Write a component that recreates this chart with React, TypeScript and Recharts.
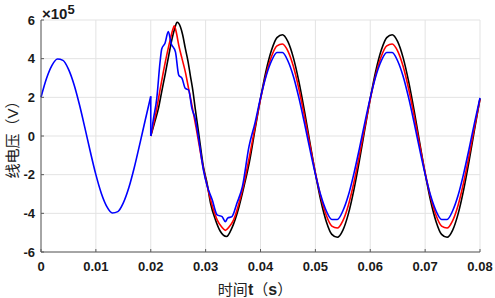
import { LineChart, Line, XAxis, YAxis, CartesianGrid } from 'recharts'

// x ticks (s) and y ticks (x10^5 V)
const xTicks = [0, 0.01, 0.02, 0.03, 0.04, 0.05, 0.06, 0.07, 0.08]
const yTicks = [-6, -4, -2, 0, 2, 4, 6]

// before the fault: one cycle of the blue phase
const preTime = [
  0, 0.001, 0.002, 0.003, 0.004, 0.005, 0.006, 0.007, 0.008, 0.009, 0.01,
  0.011, 0.012, 0.013, 0.014, 0.015, 0.016, 0.017, 0.018, 0.019, 0.02,
]
const preBlue = [
  2.0, 2.97, 3.65, 3.98, 3.91, 3.46, 2.68, 1.63, 0.42, -0.83, -2.0,
  -2.97, -3.65, -3.98, -3.91, -3.46, -2.68, -1.63, -0.42, 0.83, 2.05,
]
// the drop at t = 0.02
const dropTime = [0.02, 0.02]
const dropBlue = [2.05, 0]

// shared grid for the steady part
const steadyTime = [
  0.039, 0.04, 0.041, 0.042, 0.043, 0.044, 0.045, 0.046, 0.047, 0.048, 0.049,
  0.05, 0.051, 0.052, 0.053, 0.054, 0.055, 0.056, 0.057, 0.058, 0.059,
  0.06, 0.061, 0.062, 0.063, 0.064, 0.065, 0.066, 0.067, 0.068, 0.069,
  0.07, 0.071, 0.072, 0.073, 0.074, 0.075, 0.076, 0.077, 0.078, 0.079, 0.08,
]

const blackTime = [
  0.02, 0.0207, 0.0214, 0.022, 0.0226, 0.0233, 0.0239, 0.0244, 0.0248, 0.0254,
  0.0258, 0.0263, 0.0268, 0.0272, 0.0277, 0.0281, 0.0287, 0.0296, 0.0303, 0.0309,
  0.0318, 0.0327, 0.0338, 0.0348, 0.036, 0.037, 0.038,
]
const blackVolt = [
  0, 0.7, 1.43, 2.3, 3.15, 4.2, 5.05, 5.6, 5.88, 5.65,
  5.25, 4.53, 3.85, 3.15, 2.3, 1.43, 0.22, -1.6, -2.5, -3.48,
  -4.34, -4.94, -5.2, -4.75, -3.75, -2.6, -1.31,
  0.33, 1.93, 3.35, 4.43, 5.09, 5.24, 4.88, 4.04, 2.81, 1.31,
  -0.33, -1.93, -3.35, -4.43, -5.09, -5.24, -4.88, -4.04, -2.81, -1.31,
  0.33, 1.93, 3.35, 4.43, 5.09, 5.24, 4.88, 4.04, 2.81, 1.31,
  -0.33, -1.93, -3.35, -4.43, -5.09, -5.24, -4.88, -4.04, -2.81, -1.31,
  0.33, 1.93,
]

const redTime = [
  0.02, 0.0205, 0.0211, 0.0217, 0.0223, 0.023, 0.0236, 0.024, 0.0243, 0.0247,
  0.0251, 0.0257, 0.0263, 0.0269, 0.0275, 0.0284, 0.0296, 0.0303, 0.0312, 0.0321,
  0.0329, 0.0336, 0.0343, 0.0351, 0.0364, 0.037, 0.038,
]
const redVolt = [
  0, 0.6, 1.43, 2.4, 3.32, 4.3, 5.05, 5.5, 5.7, 5.3,
  4.7, 4.0, 3.32, 2.45, 1.6, 0.22, -1.7, -2.6, -3.6, -4.34,
  -4.7, -4.88, -4.7, -4.34, -3.13, -2.43, -1.04,
  0.45, 1.9, 3.16, 4.11, 4.66, 4.76, 4.39, 3.59, 2.43, 1.04,
  -0.45, -1.9, -3.16, -4.11, -4.66, -4.76, -4.39, -3.59, -2.43, -1.04,
  0.45, 1.9, 3.16, 4.11, 4.66, 4.76, 4.39, 3.59, 2.43, 1.04,
  -0.45, -1.9, -3.16, -4.11, -4.66, -4.76, -4.39, -3.59, -2.43, -1.04,
  0.45, 1.9,
]

const blueTime = [
  0.02, 0.0205, 0.0211, 0.0217, 0.022, 0.0226, 0.0232, 0.0237, 0.0245, 0.0251,
  0.0257, 0.0263, 0.0269, 0.0275, 0.0281, 0.0287, 0.0296, 0.0303, 0.0312, 0.0321,
  0.033, 0.0336, 0.034, 0.0348, 0.0357, 0.0367, 0.0379,
]
const blueVolt = [
  0, 0.9, 1.95, 3.84, 4.5, 4.8, 5.4, 4.8, 4.35, 3.15,
  2.98, 2.46, 2.38, 1.43, 0.9, -0.1, -1.76, -2.6, -3.3, -4.08,
  -4.17, -4.43, -4.25, -4.17, -3.48, -2.62, -0.55,
  0.68, 1.97, 3.08, 3.88, 4.32, 4.32, 3.88, 3.08, 1.97, 0.68,
  -0.68, -1.97, -3.08, -3.88, -4.32, -4.32, -3.88, -3.08, -1.97, -0.68,
  0.68, 1.97, 3.08, 3.88, 4.32, 4.32, 3.88, 3.08, 1.97, 0.68,
  -0.68, -1.97, -3.08, -3.88, -4.32, -4.32, -3.88, -3.08, -1.97, -0.68,
  0.68, 1.97,
]

const pts = (ts: number[], vs: number[]) => ts.map((t, i) => ({ t, v: vs[i] }))

const preData = pts(preTime, preBlue)
const dropData = pts(dropTime, dropBlue)
const blackData = pts([...blackTime, ...steadyTime], blackVolt)
const redData = pts([...redTime, ...steadyTime], redVolt)
const blueData = pts([...blueTime, ...steadyTime], blueVolt)

const W = 495
const H = 298
const axisColor = '#5a5a5a'
const arial = 'Liberation Sans, Arial, sans-serif'
const cjk = '"Noto Sans CJK SC", sans-serif'
const none = () => ''

const XTick = ({ x, y, payload }: any) => (
  <text x={x} y={y} dy="0.71em" textAnchor="middle" fontFamily={arial} fontWeight={700} fontSize={13} fill="#1a1a1a">
    {String(payload.value)}
  </text>
)

const YTick = ({ x, y, payload }: any) => (
  <text x={x} y={y} dy="0.355em" textAnchor="end" fontFamily={arial} fontWeight={700} fontSize={13} fill="#1a1a1a">
    {String(payload.value)}
  </text>
)

export default function App() {
  return (
    <div style={{ position: 'absolute', left: 0, top: 0, width: W, height: H, background: '#fff' }}>
      <LineChart width={W} height={H} margin={{ top: 20, right: 15, left: 0, bottom: 0 }}>
        <CartesianGrid stroke="#e3e3e3" />
        <XAxis
          dataKey="t"
          type="number"
          domain={[0, 0.08]}
          ticks={xTicks}
          interval={0}
          height={46}
          tickSize={-3}
          tickMargin={13}
          stroke={axisColor}
          tick={<XTick />}
        />
        <XAxis
          xAxisId="top"
          orientation="top"
          type="number"
          domain={[0, 0.08]}
          ticks={xTicks}
          interval={0}
          height={0}
          tickSize={-3}
          stroke={axisColor}
          tickFormatter={none}
        />
        <YAxis
          type="number"
          domain={[-6, 6]}
          ticks={yTicks}
          interval={0}
          width={41}
          tickSize={-3}
          tickMargin={9}
          stroke={axisColor}
          tick={<YTick />}
        />
        <YAxis
          yAxisId="right"
          orientation="right"
          type="number"
          domain={[-6, 6]}
          ticks={yTicks}
          interval={0}
          width={0}
          tickSize={-3}
          stroke={axisColor}
          tickFormatter={none}
        />
        <Line data={blackData} dataKey="v" type="monotone" stroke="#000" strokeWidth={1.6} dot={false} activeDot={false} isAnimationActive={false} />
        <Line data={redData} dataKey="v" type="monotone" stroke="#ff0000" strokeWidth={1.6} dot={false} activeDot={false} isAnimationActive={false} />
        <Line data={preData} dataKey="v" type="monotone" stroke="#0000ff" strokeWidth={1.6} dot={false} activeDot={false} isAnimationActive={false} />
        <Line data={dropData} dataKey="v" type="linear" stroke="#0000ff" strokeWidth={1.6} dot={false} activeDot={false} isAnimationActive={false} />
        <Line data={blueData} dataKey="v" type="monotone" stroke="#0000ff" strokeWidth={1.6} dot={false} activeDot={false} isAnimationActive={false} />
      </LineChart>
      <div style={{ position: 'absolute', left: 42, top: 6, fontFamily: arial, fontWeight: 'bold', fontSize: 15, lineHeight: 1, color: '#1a1a1a', whiteSpace: 'nowrap' }}>
        ×10<span style={{ position: 'relative', top: -5, fontSize: 13 }}>5</span>
      </div>
      <div style={{ position: 'absolute', left: 255, top: 289, transform: 'translate(-50%,-50%)', fontFamily: cjk, fontSize: 15, color: '#222', whiteSpace: 'nowrap', lineHeight: 1 }}>
        时间<b style={{ fontFamily: arial, fontSize: 16 }}>t</b>（<b style={{ fontFamily: arial, fontSize: 16 }}>s</b>）
      </div>
      <div style={{ position: 'absolute', left: 12, top: 136, transform: 'translate(-50%,-50%) rotate(-90deg)', fontFamily: cjk, fontSize: 15, color: '#222', whiteSpace: 'nowrap', lineHeight: 1 }}>
        线电压（<b style={{ fontFamily: arial, fontWeight: 'normal' }}>V</b>）
      </div>
    </div>
  )
}
